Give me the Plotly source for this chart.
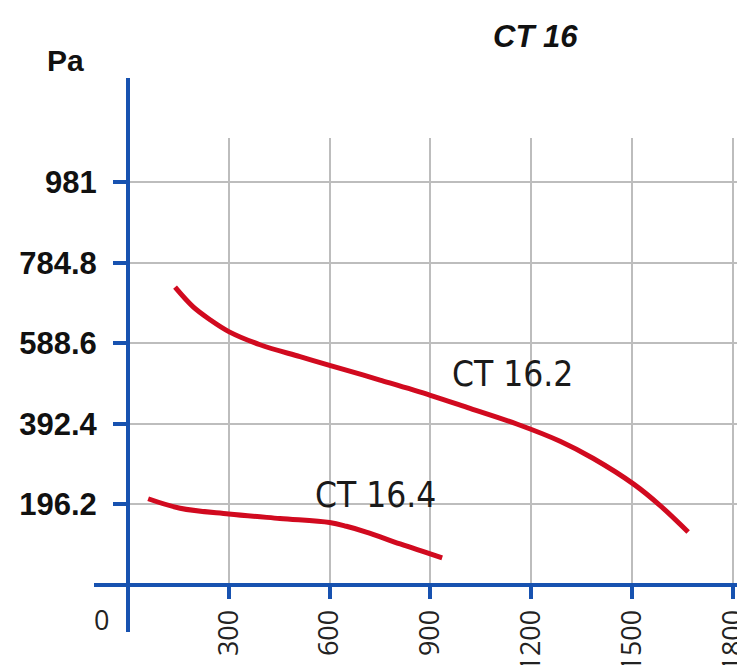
import plotly.graph_objects as go

# ---- data ----
x_ticks = [300, 600, 900, 1200, 1500, 1800]
x_tick_labels = ["300", "600", "900", "1200", "1500", "1800"]
y_ticks = [196.2, 392.4, 588.6, 784.8, 981]
y_tick_labels = ["196.2", "392.4", "588.6", "784.8", "981"]

ct162_x = [140, 194, 244, 300, 393, 512, 600, 750, 900, 1018, 1157, 1286, 1385, 1506, 1583, 1667]
ct162_y = [725, 677, 646, 617, 585, 556, 535, 499, 462, 430, 392, 350, 308, 245, 194, 129]

ct164_x = [60, 155, 300, 452, 600, 650, 709, 810, 935]
ct164_y = [210, 187, 173, 162, 152, 143, 129, 100, 66]

labels = ["CT 16.2", "CT 16.4"]
label_x = [1143, 738]
label_y = [514, 218]

title = "CT 16"
unit = "Pa"

# ---- styling ----
W, H = 737, 665
ML, MR, MT, MB = 128, 0, 138, 80
PW, PH = W - ML - MR, H - MT - MB
BLUE = "#1752b0"
RED = "#d10a1f"
GRID = "#bdbdbd"


def px_x(p):
    return (p - ML) / PW


def px_y(p):
    return (H - MB - p) / PH


fig = go.Figure()
fig.add_trace(go.Scatter(x=ct162_x, y=ct162_y, mode="lines",
                         line=dict(color=RED, width=5, shape="spline", smoothing=1.0),
                         hoverinfo="skip", showlegend=False))
fig.add_trace(go.Scatter(x=ct164_x, y=ct164_y, mode="lines",
                         line=dict(color=RED, width=5, shape="spline", smoothing=1.0),
                         hoverinfo="skip", showlegend=False))

for t, lx, ly in zip(labels, label_x, label_y):
    fig.add_annotation(x=lx, y=ly, text=t, showarrow=False, xanchor="center", yanchor="middle",
                       font=dict(family="DejaVu Sans Condensed, Liberation Sans, sans-serif", size=35,
                                 color="#1a1a1a"))

# axis lines extending beyond the plot area
fig.add_shape(type="line", xref="paper", yref="paper", x0=0, x1=0, y0=px_y(632), y1=px_y(78),
              line=dict(color=BLUE, width=4), layer="above")
fig.add_shape(type="line", xref="paper", yref="paper", x0=px_x(94), x1=1.01, y0=0, y1=0,
              line=dict(color=BLUE, width=4), layer="above")

# title / unit / origin label
fig.add_annotation(xref="paper", yref="paper", x=px_x(535), y=px_y(37), text="<b><i>" + title + "</i></b>",
                   showarrow=False, xanchor="center", yanchor="middle",
                   font=dict(family="Liberation Sans, Arial, sans-serif", size=31, color="#111"))
fig.add_annotation(xref="paper", yref="paper", x=px_x(65), y=px_y(60), text="<b>" + unit + "</b>",
                   showarrow=False, xanchor="center", yanchor="middle",
                   font=dict(family="Liberation Sans, Arial, sans-serif", size=30, color="#111"))
fig.add_annotation(xref="paper", yref="paper", x=px_x(101), y=px_y(619), text="0",
                   showarrow=False, xanchor="center", yanchor="middle",
                   font=dict(family="Open Sans, sans-serif", size=27, color="#222"))

fig.update_xaxes(range=[0, PW / 0.336], tickmode="array", tickvals=x_ticks, ticktext=x_tick_labels,
                 tickangle=-90, ticks="outside", ticklen=13, tickwidth=4, tickcolor=BLUE,
                 showgrid=True, gridcolor=GRID, gridwidth=1.5, zeroline=False, showline=False,
                 ticklabelstandoff=0, ticklabeloverflow="allow",
                 tickfont=dict(family="Open Sans, sans-serif", size=27, color="#222"))
fig.update_yaxes(range=[0, PH / 0.4107], tickmode="array", tickvals=y_ticks, ticktext=y_tick_labels,
                 ticks="outside", ticklen=14, tickwidth=4, tickcolor=BLUE,
                 showgrid=True, gridcolor=GRID, gridwidth=1.5, zeroline=False, showline=False,
                 ticklabelstandoff=10,
                 tickfont=dict(family="Liberation Sans, Arial, sans-serif", size=31, color="#111",
                               weight="bold"))

fig.update_layout(width=W, height=H, margin=dict(l=ML, r=MR, t=MT, b=MB, autoexpand=False),
                  plot_bgcolor="white", paper_bgcolor="white", showlegend=False)

fig.write_html("out.html", config={"displayModeBar": False},
               post_script="document.body.style.margin='0';")
